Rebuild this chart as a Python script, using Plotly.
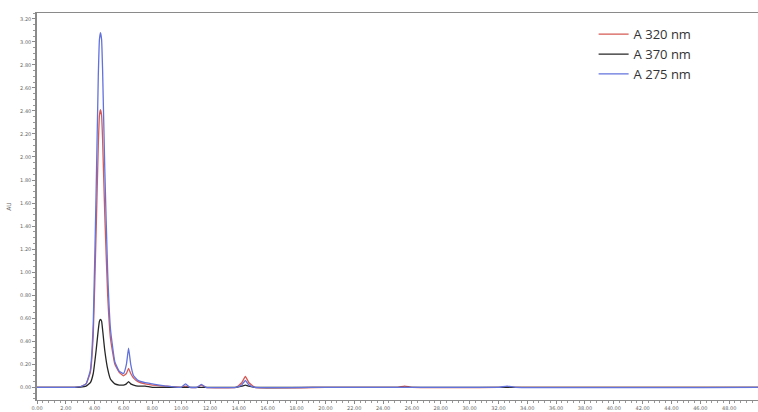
import plotly.graph_objects as go

# Retention time (min) sampling points for the three detector channels
time_min = [0.0, 2.6, 3.0, 3.4, 3.7, 3.9, 4.1, 4.25, 4.33, 4.4, 4.48, 4.55, 4.7, 4.9, 5.1, 5.4, 5.7,
            6.0, 6.2, 6.35, 6.5, 6.7, 7.0, 7.5, 8.0, 9.0, 10.0, 10.3, 10.6, 11.1,
            11.4, 11.7, 13.8, 14.2, 14.45, 14.7, 15.1, 20.0, 25.0, 25.5, 26.0,
            32.0, 32.6, 33.2, 50.0]

# Absorbance (AU) per wavelength
au_320 = [0.0, 0.0, 0.005, 0.03, 0.13, 0.45, 1.35, 2.10, 2.36, 2.41, 2.36, 2.15, 1.50, 0.80, 0.42, 0.20, 0.13,
          0.10, 0.12, 0.165, 0.12, 0.08, 0.05, 0.03, 0.02, 0.01, 0.0, 0.01, 0.0, 0.0,
          0.02, 0.0, 0.0, 0.04, 0.095, 0.04, 0.0, 0.0, 0.0, 0.01, 0.0,
          0.0, 0.005, 0.0, 0.0]
au_370 = [0.0, 0.0, 0.002, 0.01, 0.04, 0.12, 0.32, 0.50, 0.575, 0.59, 0.575, 0.50, 0.32, 0.16, 0.07, 0.03, 0.02,
          0.02, 0.03, 0.05, 0.03, 0.02, 0.01, 0.01, 0.0, 0.0, 0.0, 0.0, 0.0, 0.0,
          0.0, 0.0, 0.0, 0.01, 0.02, 0.01, 0.0, 0.0, 0.0, 0.0, 0.0,
          0.0, 0.0, 0.0, 0.0]
au_275 = [0.0, 0.0, 0.005, 0.03, 0.15, 0.55, 1.70, 2.70, 3.02, 3.08, 3.02, 2.75, 1.90, 1.00, 0.50, 0.22, 0.14,
          0.12, 0.20, 0.34, 0.20, 0.10, 0.06, 0.04, 0.03, 0.01, 0.0, 0.03, 0.0, 0.0,
          0.025, 0.0, 0.0, 0.02, 0.06, 0.02, 0.0, 0.0, 0.0, 0.0, 0.0,
          0.0, 0.01, 0.0, 0.0]

series = [
    ("A 320 nm", au_320, "#d65a55"),
    ("A 370 nm", au_370, "#262626"),
    ("A 275 nm", au_275, "#6272dc"),
]

fig = go.Figure()
for name, values, color in series:
    fig.add_trace(go.Scatter(
        x=time_min, y=values, mode="lines", name=name,
        line=dict(color=color, width=1.3, shape="spline", smoothing=0.35),
    ))

axis_font = dict(family="DejaVu Sans", size=5, color="#666666")

fig.update_layout(
    width=758, height=412,
    margin=dict(l=37, r=0, t=13, b=12),
    paper_bgcolor="white", plot_bgcolor="white",
    showlegend=True,
    legend=dict(
        x=0.772, y=0.984, xanchor="left", yanchor="top",
        font=dict(family="Open Sans", size=13, color="#333333"),
        bgcolor="rgba(0,0,0,0)", tracegroupgap=0,
    ),
    xaxis=dict(
        range=[0, 50], dtick=2, tick0=0, tickformat=".2f",
        showgrid=False, zeroline=False,
        showline=True, linecolor="#8a8a8a", linewidth=1, mirror=True,
        ticks="outside", ticklen=3, tickcolor="#8a8a8a",
        tickfont=axis_font,
        minor=dict(dtick=0.4, ticks="outside", ticklen=2, tickcolor="#999999"),
    ),
    yaxis=dict(
        range=[-0.11, 3.25], dtick=0.2, tick0=0, tickformat=".2f",
        showgrid=False, zeroline=False,
        showline=True, linecolor="#8a8a8a", linewidth=1.5,
        ticks="outside", ticklen=3, tickcolor="#8a8a8a",
        tickfont=axis_font,
        minor=dict(dtick=0.05, ticks="outside", ticklen=2, tickcolor="#999999"),
        title=dict(text="AU", font=dict(family="DejaVu Sans", size=6, color="#666666"),
                   standoff=8),
    ),
)

fig.write_html("out.html")
